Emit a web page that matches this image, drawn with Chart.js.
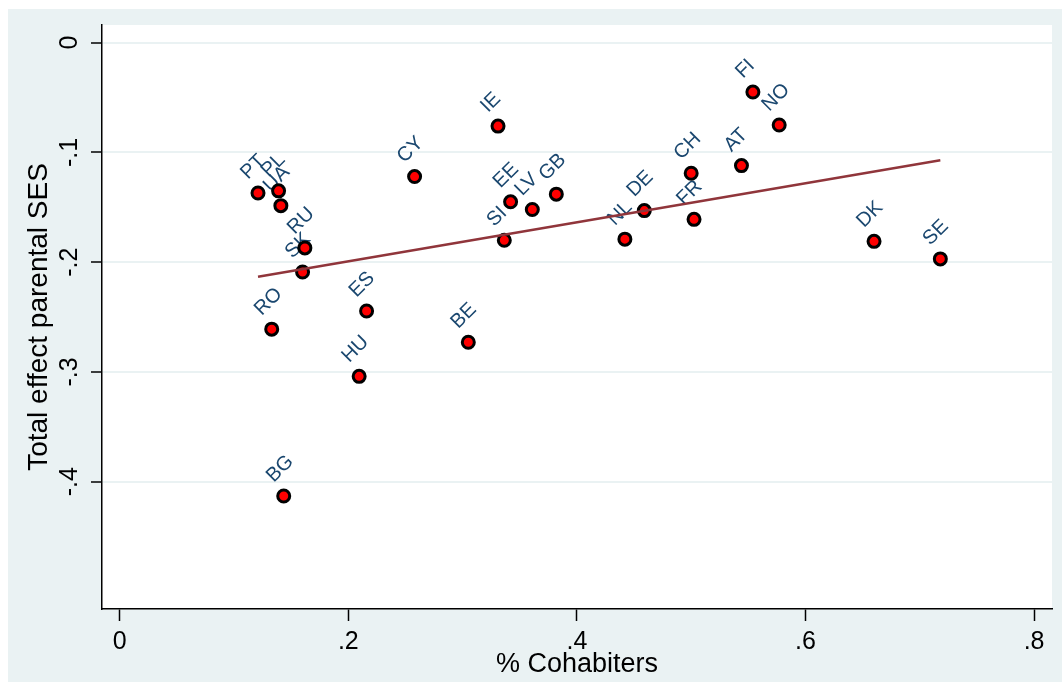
<!DOCTYPE html>
<html>
<head>
<meta charset="utf-8">
<title>Total effect parental SES vs % Cohabiters</title>
<script src="https://cdn.jsdelivr.net/npm/chart.js@4/dist/chart.umd.min.js"></script>
<style>
  html, body { margin: 0; padding: 0; background: #ffffff; }
  #wrap { width: 1062px; height: 682px; }
  canvas { display: block; }
</style>
</head>
<body>
<div id="wrap"><canvas id="chart" width="1062" height="682"></canvas></div>
<script>
// Country codes and their values
const countries = ['PT', 'PL', 'UA', 'RU', 'SK', 'CY', 'IE', 'EE', 'LV', 'GB', 'SI', 'NL', 'DE',
                   'CH', 'FR', 'AT', 'FI', 'NO', 'DK', 'SE', 'RO', 'ES', 'BE', 'HU', 'BG'];
const cohabiters = [0.121, 0.139, 0.141, 0.162, 0.160, 0.258, 0.331, 0.342, 0.361, 0.382, 0.3365, 0.442, 0.459,
                    0.500, 0.5025, 0.544, 0.554, 0.577, 0.660, 0.718, 0.133, 0.216, 0.305, 0.2095, 0.1435];
const sesEffect = [-0.137, -0.135, -0.1485, -0.187, -0.209, -0.122, -0.076, -0.145, -0.152, -0.138, -0.180, -0.179, -0.153,
                   -0.119, -0.161, -0.112, -0.045, -0.075, -0.181, -0.197, -0.261, -0.2445, -0.273, -0.304, -0.413];

// Linear fit, drawn between the smallest and largest % cohabiters
const fitX = [0.121, 0.718];
const fitY = [-0.2132, -0.1072];

// Axis ticks and their labels
const xTicks = [0, 0.2, 0.4, 0.6, 0.8];
const xTickLabels = ['0', '.2', '.4', '.6', '.8'];
const yTicks = [0, -0.1, -0.2, -0.3, -0.4];
const yTickLabels = ['0', '-.1', '-.2', '-.3', '-.4'];

const FONT = '"Liberation Sans", Arial, Helvetica, sans-serif';
Chart.defaults.font.family = FONT;
Chart.defaults.color = '#000000';

// Light graph region with a white plot region on top of it
const panelPlugin = {
  id: 'panel',
  beforeDraw(chart) {
    const { ctx, chartArea: a } = chart;
    ctx.save();
    ctx.fillStyle = '#ffffff';
    ctx.fillRect(0, 0, chart.width, chart.height);
    ctx.fillStyle = '#eaf2f3';
    ctx.fillRect(8, 9, chart.width - 8, chart.height - 9);
    ctx.fillStyle = '#ffffff';
    ctx.fillRect(a.left, a.top, a.right - a.left, a.bottom - a.top);
    ctx.restore();
  }
};

// Vertical tick labels on the y axis
const yTickTextPlugin = {
  id: 'yTickText',
  afterDraw(chart) {
    const s = chart.scales.y;
    const ctx = chart.ctx;
    ctx.save();
    ctx.font = '25px ' + FONT;
    ctx.fillStyle = '#000000';
    ctx.textAlign = 'center';
    ctx.textBaseline = 'middle';
    s.ticks.forEach((t, i) => {
      ctx.save();
      ctx.translate(s.right - 32, s.getPixelForValue(t.value));
      ctx.rotate(-Math.PI / 2);
      ctx.fillText(yTickLabels[i], 0, 0);
      ctx.restore();
    });
    ctx.restore();
  }
};

// Country code next to each marker, at 45 degrees, beneath the markers
const markLabelPlugin = {
  id: 'markLabels',
  beforeDatasetsDraw(chart) {
    const meta = chart.getDatasetMeta(1);
    const ctx = chart.ctx;
    ctx.save();
    ctx.font = '20px ' + FONT;
    ctx.fillStyle = '#1a476f';
    ctx.textAlign = 'left';
    ctx.textBaseline = 'alphabetic';
    meta.data.forEach((el, i) => {
      ctx.save();
      ctx.translate(el.x - 10, el.y - 13);
      ctx.rotate(-Math.PI / 4);
      ctx.fillText(countries[i], 0, 0);
      ctx.restore();
    });
    ctx.restore();
  }
};

new Chart(document.getElementById('chart'), {
  type: 'scatter',
  data: {
    datasets: [
      {
        type: 'line',
        label: 'Fitted values',
        data: fitX.map((x, i) => ({ x: x, y: fitY[i] })),
        borderColor: '#90353b',
        borderWidth: 2.5,
        pointRadius: 0,
        fill: false,
        order: 0
      },
      {
        type: 'scatter',
        label: 'Total effect parental SES',
        data: cohabiters.map((x, i) => ({ x: x, y: sesEffect[i] })),
        backgroundColor: '#ff0000',
        borderColor: '#000000',
        pointRadius: 6,
        pointBorderWidth: 3,
        pointHoverRadius: 6,
        order: 1
      }
    ]
  },
  options: {
    responsive: false,
    devicePixelRatio: 1,
    animation: false,
    layout: { padding: { left: 0, right: 10, top: 25, bottom: 0 } },
    plugins: {
      legend: { display: false },
      tooltip: { enabled: false }
    },
    scales: {
      x: {
        type: 'linear',
        position: 'bottom',
        min: -0.0155,
        max: 0.8157,
        afterBuildTicks(s) { s.ticks = xTicks.map(v => ({ value: v })); },
        afterFit(s) { s.height = 73; },
        grid: {
          display: true,
          drawOnChartArea: false,
          drawTicks: true,
          tickLength: 12,
          tickColor: '#000000',
          tickWidth: 1.5,
          color: '#000000'
        },
        border: { display: true, color: '#000000', width: 1.5 },
        ticks: {
          autoSkip: false,
          maxRotation: 0,
          padding: 6,
          color: '#000000',
          font: { size: 25 },
          callback: (v, i) => xTickLabels[i]
        },
        title: {
          display: true,
          text: '% Cohabiters',
          color: '#000000',
          font: { size: 27 },
          padding: 1
        }
      },
      y: {
        type: 'linear',
        position: 'left',
        min: -0.516,
        max: 0.0161,
        afterBuildTicks(s) { s.ticks = yTicks.map(v => ({ value: v })); },
        afterFit(s) { s.width = 102; },
        grid: {
          display: true,
          drawOnChartArea: true,
          drawTicks: true,
          color: '#eaf2f3',
          lineWidth: 2,
          tickColor: '#000000',
          tickLength: 11,
          tickWidth: 1.5
        },
        border: { display: true, color: '#000000', width: 1.5 },
        ticks: { display: false },
        title: {
          display: true,
          text: 'Total effect parental SES',
          color: '#000000',
          font: { size: 28 },
          padding: 22
        }
      }
    }
  },
  plugins: [panelPlugin, yTickTextPlugin, markLabelPlugin]
});
</script>
</body>
</html>
